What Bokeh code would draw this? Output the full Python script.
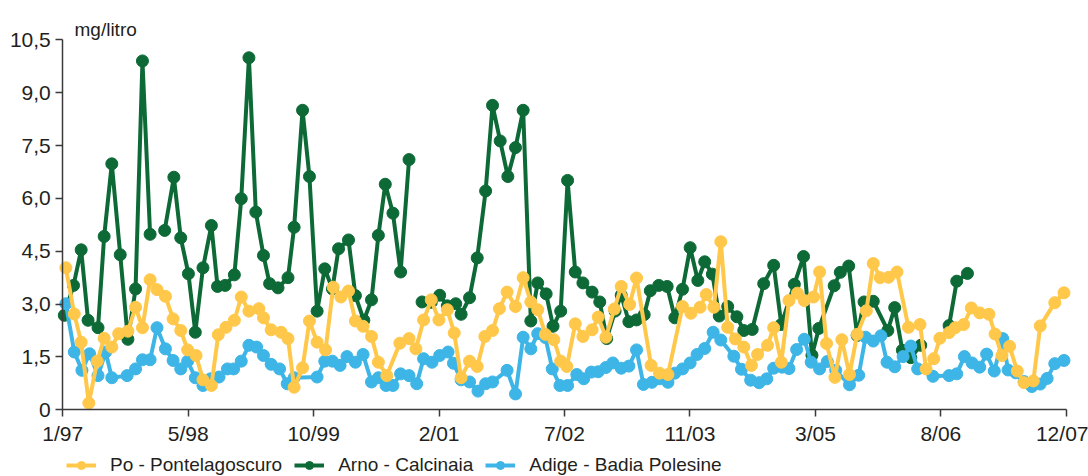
import numpy as np
from bokeh.plotting import figure
from bokeh.models import (Range1d, FixedTicker, Legend, LegendItem, Label,
                          ColumnDataSource, CustomJSTickFormatter)
from bokeh.embed import file_html
from bokeh.resources import INLINE

# ---------------- data (time = months since January 1997) ----------------
X_TICK_LABELS = ["1/97", "5/98", "10/99", "2/01", "7/02", "11/03", "3/05", "8/06", "12/07"]
N_MONTHS = 131          # January 1997 .. December 2007
Y_TICKS = [0, 1.5, 3.0, 4.5, 6.0, 7.5, 9.0, 10.5]
UNIT = "mg/litro"

PO_NAME = "Po - Pontelagoscuro"
PO_T = [0.4, 1.5, 2.4, 3.4, 4.5, 5.4, 6.4, 7.3, 8.5, 9.5,
        10.4, 11.4, 12.3, 13.4, 14.4, 15.4, 16.3, 17.4, 18.3, 19.4,
        20.3, 21.3, 22.4, 23.3, 24.3, 25.6, 26.2, 27.2, 28.5, 29.4,
        30.2, 31.3, 32.2, 33.2, 34.3, 35.3, 36.3, 37.3, 38.2, 39.2,
        40.3, 41.2, 42.3, 44.0, 45.2, 46.1, 47.1, 48.1, 49.1, 50.2,
        51.1, 52.0, 53.1, 54.1, 55.1, 56.1, 57.0, 58.0, 59.1, 60.1,
        61.1, 62.0, 63.0, 64.1, 65.0, 65.8, 66.9, 67.9, 69.1, 69.9,
        70.9, 72.0, 72.9, 74.0, 74.9, 76.8, 77.9, 79.0, 80.9, 82.0,
        83.2, 84.0, 85.0, 85.9, 86.8, 87.8, 88.9, 89.9, 90.7, 92.0,
        92.8, 93.8, 94.8, 95.9, 96.8, 98.0, 98.8, 99.7, 100.8, 101.7,
        102.7, 103.7, 104.9, 105.8, 106.7, 107.8, 108.9, 110.4, 111.9, 112.7,
        113.7, 114.5, 115.7, 116.5, 117.6, 118.6, 119.7, 120.9, 121.7, 122.6,
        123.6, 124.6, 125.5, 126.7, 127.6, 129.5, 130.7]
PO_V = [4.03, 2.72, 1.92, 0.19, 1.38, 2.03, 1.78, 2.16, 2.23, 2.91,
        2.33, 3.69, 3.41, 3.22, 2.58, 2.25, 1.70, 1.54, 0.85, 0.69,
        2.13, 2.34, 2.54, 3.20, 2.80, 2.87, 2.61, 2.27, 2.20, 2.02,
        0.64, 1.19, 2.52, 1.92, 1.70, 3.48, 3.20, 3.37, 2.52, 2.37,
        2.08, 1.35, 0.97, 1.89, 2.02, 1.73, 2.55, 3.12, 2.55, 2.84,
        2.18, 0.91, 1.38, 1.23, 2.08, 2.25, 2.87, 3.34, 2.93, 3.75,
        3.06, 2.84, 2.14, 1.99, 1.38, 1.23, 2.44, 2.08, 2.27, 2.63,
        2.06, 2.86, 3.50, 2.99, 3.74, 1.26, 1.04, 1.00, 2.93, 2.74,
        2.91, 3.27, 2.91, 4.77, 2.34, 2.01, 1.78, 1.26, 1.57, 1.83,
        2.33, 1.35, 3.10, 3.31, 3.10, 3.20, 3.91, 1.88, 0.92, 1.99,
        1.00, 2.14, 2.81, 4.15, 3.75, 3.76, 3.91, 2.34, 2.42, 1.16,
        1.45, 2.03, 2.19, 2.33, 2.42, 2.89, 2.75, 2.71, 2.15, 1.54,
        1.80, 1.10, 0.77, 0.82, 2.38, 3.04, 3.32]

# None = missing sample (the line is interrupted there)
ARNO_NAME = "Arno - Calcinaia"
ARNO_T = [0.2, 1.4, 2.4, 3.3, 4.6, 5.4, 6.4, 7.5, 8.5, 9.5, 10.4, 11.4, None,
          13.3, 14.5, 15.4, 16.4, 17.3, 18.3, 19.4, 20.2, 21.2, 22.4,
          23.3, 24.3, 25.2, 26.2, 27.0, 28.1, 29.4, 30.2, 31.3, 32.2,
          33.2, 34.2, 35.2, 36.0, 37.3, 38.2, 39.3, 40.3, 41.2, 42.1,
          43.1, 44.1, 45.2, None,
          46.9, 48.1, 49.2, 50.2, 51.3, 52.0, 53.1, 54.1, 55.2, 56.1,
          57.1, 58.1, 59.1, 60.1, 61.1, 62.0, 63.1, 64.0, 65.0, 65.9,
          66.9, 67.9, 69.1, 70.1, 71.0, 72.1, 72.9, 73.9, 74.9, 75.9,
          76.7, 77.8, 78.9, 79.9, 80.9, 81.9, 82.9, 83.8, 84.8, 85.7,
          86.8, 88.0, 88.9, 90.0, 91.5, 92.8, 93.8, 95.5, 96.7, 97.8,
          98.7, 100.7, 101.5, 102.6, 103.7, 104.6, 105.8, 107.7, 108.6, 109.6,
          110.7, 112.0, None, 115.7, 116.7, 118.1]
ARNO_V = [2.68, 3.53, 4.54, 2.54, 2.33, 4.92, 6.98, 4.40, 2.00, 3.43, 9.90, 4.98, None,
          5.09, 6.60, 4.88, 3.86, 2.20, 4.03, 5.23, 3.50, 3.53, 3.83,
          5.99, 9.99, 5.61, 4.38, 3.58, 3.46, 3.75, 5.18, 8.50, 6.62,
          2.80, 4.00, 3.43, 4.57, 4.82, 3.24, 2.54, 3.12, 4.95, 6.40,
          5.58, 3.91, 7.10, None,
          3.06, 3.05, 3.25, 2.95, 3.01, 2.71, 3.18, 4.31, 6.21, 8.64,
          7.63, 6.62, 7.44, 8.50, 2.52, 3.60, 3.29, 2.37, 2.80, 6.51,
          3.91, 3.60, 3.34, 3.06, 2.02, 2.80, 3.25, 2.50, 2.55, 2.70,
          3.38, 3.53, 3.50, 2.61, 3.42, 4.60, 3.67, 4.20, 3.85, 2.66,
          2.93, 2.64, 2.25, 2.28, 3.58, 4.10, 2.42, 3.56, 4.35, 1.55,
          2.31, 3.52, 3.90, 4.08, 2.11, 3.06, 3.08, 2.25, 2.90, 1.69,
          1.48, 1.83, None, 2.39, 3.65, 3.87]

ADIGE_NAME = "Adige - Badia Polesine"
ADIGE_T = [0.4, 1.5, 2.5, 3.5, 4.6, 5.6, 6.4, 8.4, 9.5, 10.4,
           11.4, 12.3, 13.4, 14.4, 15.4, 16.3, 17.3, 18.3, 19.3, 20.4,
           21.5, 22.3, 23.3, 24.3, 25.3, 26.2, 27.2, 28.3, 29.3, 30.2,
           33.2, 34.2, 35.2, 36.2, 37.1, 38.2, 39.2, 40.3, 41.2, 42.2,
           43.1, 44.1, 45.2, 46.2, 47.1, 48.2, 49.2, 50.3, 51.0, 52.0,
           53.1, 54.2, 55.2, 56.1, 58.0, 59.1, 60.1, 61.1, 62.0, 63.0,
           63.9, 64.9, 65.9, 67.1, 68.0, 69.0, 69.9, 70.9, 71.8, 72.9,
           73.9, 74.9, 75.8, 76.9, 77.9, 79.0, 79.9, 80.9, 81.9, 82.8,
           83.8, 84.9, 85.9, 87.6, 88.6, 89.8, 90.9, 91.9, 92.8, 93.9,
           94.8, 95.8, 96.8, 97.7, 98.8, 99.8, 100.9, 102.7, 103.9, 104.8,
           105.8, 106.8, 107.6, 108.6, 109.7, 110.7, 111.6, 113.6, 115.7, 116.7,
           117.7, 118.7, 119.7, 120.6, 121.6, 122.7, 123.4, 124.4, 125.5, 126.5,
           127.6, 128.5, 129.5, 130.7]
ADIGE_V = [3.01, 1.64, 1.12, 1.59, 0.97, 1.64, 0.91, 0.97, 1.16, 1.42,
           1.42, 2.33, 1.73, 1.40, 1.16, 1.38, 0.91, 0.69, 0.88, 0.93,
           1.16, 1.16, 1.38, 1.83, 1.78, 1.54, 1.29, 1.16, 0.74, 0.91,
           0.93, 1.38, 1.38, 1.26, 1.51, 1.35, 1.57, 0.79, 0.91, 0.69,
           0.69, 1.02, 0.97, 0.74, 1.45, 1.35, 1.54, 1.64, 1.32, 0.85,
           0.79, 0.53, 0.74, 0.79, 1.12, 0.45, 2.06, 1.73, 2.16, 2.05,
           1.16, 0.69, 0.69, 1.00, 0.88, 1.07, 1.08, 1.20, 1.33, 1.18,
           1.24, 1.70, 0.72, 0.78, 0.88, 0.78, 1.04, 1.16, 1.33, 1.57,
           1.74, 2.20, 1.98, 1.52, 1.15, 0.84, 0.77, 0.88, 1.18, 1.21,
           1.17, 1.71, 2.00, 1.35, 1.16, 1.37, 1.12, 0.71, 0.98, 2.06,
           1.95, 2.10, 1.35, 1.22, 1.51, 1.81, 1.16, 0.95, 0.97, 1.02,
           1.51, 1.33, 1.21, 1.58, 1.10, 2.02, 1.13, 1.05, 0.80, 0.66,
           0.73, 0.89, 1.31, 1.40]

# ---------------- styling ----------------
C_PO = "#FFC84A"
C_ARNO = "#0D6A37"
C_ADIGE = "#3DB5E6"
TXT = "#231F20"
AXC = "#3A3A3A"
FONT = "Liberation Sans"

# The frame covers the whole canvas so that nothing (tick labels, unit label,
# legend under the date axis) is clipped; both axes are pinned at 0 and bounded
# to the data span, so they look like ordinary outside axes.
X_LEFT, X_RIGHT = -8.13, 133.9
Y_BOTTOM, Y_TOP = -1.893, 11.615
p = figure(frame_width=1088, frame_height=476,
           min_border_left=0, min_border_right=0, min_border_top=0, min_border_bottom=0,
           x_range=Range1d(X_LEFT, X_RIGHT), y_range=Range1d(Y_BOTTOM, Y_TOP),
           output_backend="svg", toolbar_location=None)
p.xgrid.visible = False
p.ygrid.visible = False
p.outline_line_color = None
p.background_fill_color = "white"
p.border_fill_color = "white"

x_ticks = [k * N_MONTHS / (len(X_TICK_LABELS) - 1) for k in range(len(X_TICK_LABELS))]
p.xaxis.ticker = FixedTicker(ticks=x_ticks)
p.xaxis.major_label_overrides = {t: lbl for t, lbl in zip(x_ticks, X_TICK_LABELS)}
p.xaxis.fixed_location = 0
p.xaxis.bounds = (0, N_MONTHS)
p.yaxis.ticker = FixedTicker(ticks=Y_TICKS)
p.yaxis.fixed_location = 0
p.yaxis.bounds = (Y_TICKS[0], Y_TICKS[-1])
p.yaxis.formatter = CustomJSTickFormatter(
    code="return tick == 0 ? '0' : tick.toFixed(1).replace('.', ',');")

for ax in (p.xaxis[0], p.yaxis[0]):
    ax.axis_line_color = AXC
    ax.axis_line_width = 1.5
    ax.major_tick_line_color = AXC
    ax.major_tick_line_width = 1.5
    ax.major_tick_out = 7
    ax.major_tick_in = 0
    ax.minor_tick_line_color = None
    ax.major_label_text_font = FONT
    ax.major_label_text_font_size = "21px"
    ax.major_label_text_color = TXT
p.yaxis.major_label_standoff = 5
p.xaxis.major_label_standoff = 5

# unit label, top left above the value axis
p.add_layout(Label(x=1.53, y=10.78, text=UNIT, text_font=FONT,
                   text_font_size="19px", text_color=TXT,
                   text_align="left", text_baseline="alphabetic"))


def series(t, v, color):
    src = ColumnDataSource(dict(t=np.array(t, dtype=float), v=np.array(v, dtype=float)))
    ln = p.line("t", "v", source=src, line_color=color, line_width=4, line_join="round")
    pts = p.scatter("t", "v", source=src, size=12, fill_color=color, line_color=color,
                    line_width=1)
    return ln, pts


arno = series(ARNO_T, ARNO_V, C_ARNO)
adige = series(ADIGE_T, ADIGE_V, C_ADIGE)
po = series(PO_T, PO_V, C_PO)

legend = Legend(items=[LegendItem(label=PO_NAME, renderers=list(po)),
                       LegendItem(label=ARNO_NAME, renderers=list(arno)),
                       LegendItem(label=ADIGE_NAME, renderers=list(adige))],
                orientation="horizontal", location=(66, 0),
                glyph_width=30, glyph_height=20, label_height=20,
                label_standoff=14, spacing=12,
                padding=0, margin=0, border_line_alpha=0, background_fill_alpha=0,
                label_text_font=FONT, label_text_font_size="19px", label_text_color=TXT)
p.add_layout(legend, "center")

open("out.html", "w").write(file_html(p, INLINE))
